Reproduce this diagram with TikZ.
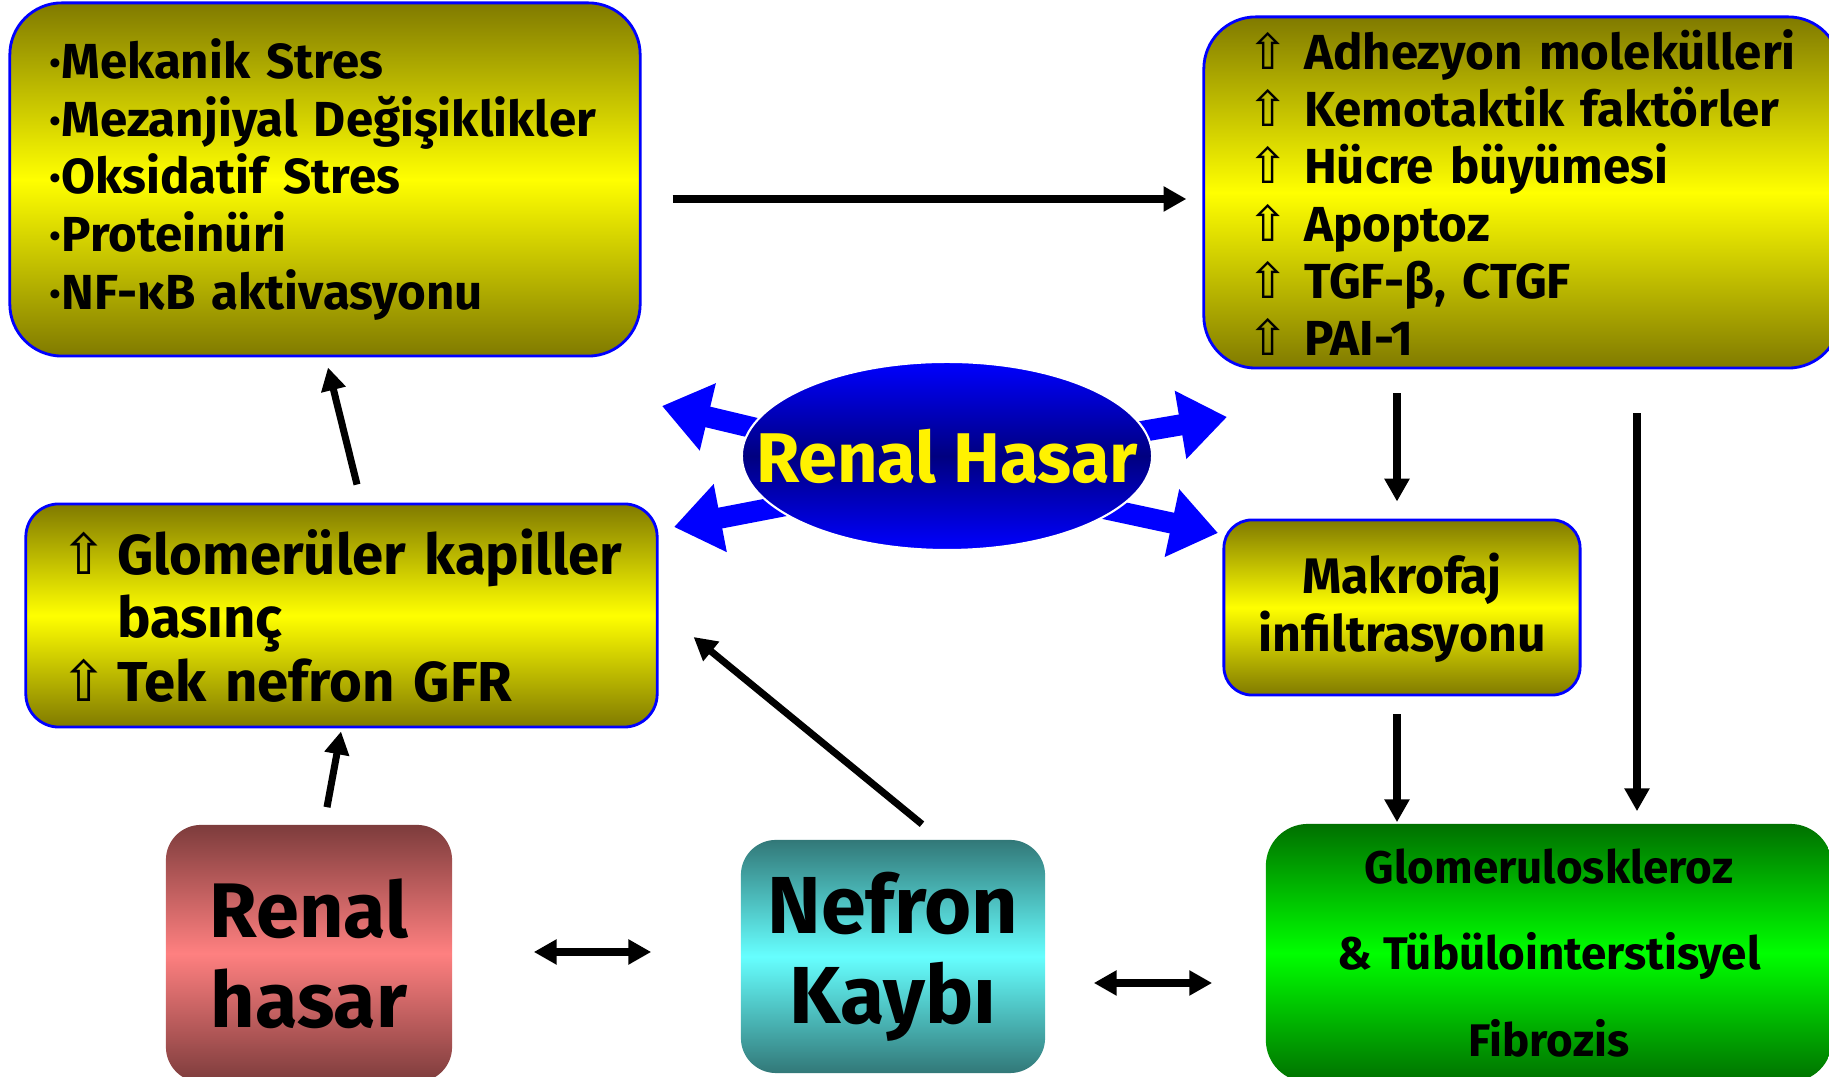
\documentclass[tikz,border=0pt]{standalone}
\usepackage{fontspec}
\setmainfont{Fira Sans}
\newfontfamily\symfont{DejaVu Sans}
\usetikzlibrary{arrows.meta,shapes.geometric}

\definecolor{olivy}{RGB}{128,122,0}
\definecolor{rosa}{RGB}{255,128,128}
\definecolor{rosadark}{RGB}{125,60,60}
\definecolor{turk}{RGB}{102,255,255}
\definecolor{turkdark}{RGB}{50,120,120}
\definecolor{gruen}{RGB}{0,255,0}
\definecolor{gruendark}{RGB}{0,112,0}
\definecolor{navy}{RGB}{0,0,128}

\newcommand{\up}{\makebox[16pt][l]{\mdseries\symfont ⇧}}

\begin{document}
\begin{tikzpicture}[x=0.01cm,y=-0.01cm,>={Triangle[length=6.5pt,width=6.8pt]},
    ybox/.style={draw=blue,line width=0.8pt,top color=olivy,bottom color=olivy,middle color=yellow},
    cbox/.style={top color=#1dark,bottom color=#1dark,middle color=#1,align=center},
    blk/.style={->,line width=2pt},
    blau/.style={-{Triangle[length=13.4pt,width=18.8pt]},line width=6pt,blue}]

    \clip (0,0) rectangle (1829,1077);

    % boxes
    \node[ybox,rounded corners=0.52cm,minimum width=6.3cm,minimum height=3.53cm,text width=5.5cm,inner xsep=0.4cm,align=left,
          font=\bfseries\fontsize{14}{16.4}\selectfont] (mekanik) at (325,179.5)
          {·Mekanik Stres\\·Mezanjiyal Değişiklikler\\·Oksidatif Stres\\·Proteinüri\\·NF-κB aktivasyonu};
    \node[ybox,rounded corners=0.52cm,minimum width=6.36cm,minimum height=3.51cm,text width=5.48cm,inner xsep=0.44cm,align=left,
          font=\bfseries\fontsize{14}{16.3}\selectfont] (adhezyon) at (1522,192.5)
          {\up Adhezyon molekülleri\\\up Kemotaktik faktörler\\\up Hücre büyümesi\\\up Apoptoz\\\up TGF-β, CTGF\\\up PAI-1};
    \node[ybox,rounded corners=0.33cm,minimum width=6.31cm,minimum height=2.23cm,text width=5.61cm,inner xsep=0.35cm,align=left,
          font=\bfseries\fontsize{16}{18}\selectfont] (glomeruler) at (341.5,615.5)
          {\up Glomerüler kapiller\\\hphantom{\up}basınç\\\up Tek nefron GFR};
    \node[ybox,rounded corners=0.28cm,minimum width=3.56cm,minimum height=1.75cm,align=center,
          font=\bfseries\fontsize{14.2}{16.5}\selectfont] (makrofaj) at (1402,607.5)
          {Makrofaj\\infiltrasyonu};

    \node[cbox=rosa,rounded corners=0.35cm,minimum width=2.86cm,minimum height=2.57cm,
          font=\bfseries\fontsize{22}{25.6}\selectfont] (renal) at (309,953.5) {Renal\\hasar};
    \node[cbox=turk,rounded corners=0.35cm,minimum width=3.04cm,minimum height=2.33cm,
          font=\bfseries\fontsize{23}{25.6}\selectfont] (nefron) at (893,956.5) {Nefron\\Kaybı};
    \node[cbox=gruen,rounded corners=0.42cm,minimum width=5.66cm,minimum height=2.58cm,
          font=\bfseries\fontsize{13}{24.6}\selectfont] (fibrozis) at (1549,953)
          {Glomeruloskleroz\\\& Tübülointerstisyel\\Fibrozis};

    % renal hasar in the middle
    \coordinate (mitte) at (947,456);
    \draw[blau] ([shift={(-151,-18)}]mitte) -- ([shift={(-285,-50)}]mitte);
    \draw[blau] ([shift={(-138,45)}]mitte) -- ([shift={(-273,71)}]mitte);
    \draw[blau] ([shift={(145,-16)}]mitte) -- ([shift={(280,-39)}]mitte);
    \draw[blau] ([shift={(136,48)}]mitte) -- ([shift={(271,77)}]mitte);
    \node[ellipse,inner sep=0pt,minimum width=4.1cm,minimum height=1.88cm,top color=blue,bottom color=blue,middle color=navy,
          draw=white,line width=0.6pt,text=yellow,font=\bfseries\fontsize{20}{24}\selectfont] (hasar) at (mitte)
          {\makebox[0pt]{Renal Hasar}};

    % arrows
    \draw[blk] ([shift={(31,19.5)}]mekanik.east) -- ([shift={(-16,6.5)}]adhezyon.west);
    \draw[blk] ([shift={(15.5,-18)}]glomeruler.north) -- ([shift={(3,10)}]mekanik.south);
    \draw[blk] ([shift={(18,-17)}]renal.north) -- ([shift={(-0.5,3)}]glomeruler.south);
    \draw[blk] ([shift={(29,-15)}]nefron.north) -- ([shift={(35,21.5)}]glomeruler.east);
    \draw[blk] ([shift={(-125,24)}]adhezyon.south) -- ([shift={(-5,-17)}]makrofaj.north);
    \draw[blk] ([shift={(115,44)}]adhezyon.south) -- ([shift={(88,-12)}]fibrozis.north);
    \draw[blk] ([shift={(-5,18)}]makrofaj.south) -- ([shift={(-152,-1)}]fibrozis.north);
    \draw[blk,<->] ([shift={(81,-1.5)}]renal.east) -- ([shift={(-89,-4.5)}]nefron.west);
    \draw[blk,<->] ([shift={(48,26.5)}]nefron.east) -- ([shift={(-53,30)}]fibrozis.west);
\end{tikzpicture}
\end{document}
